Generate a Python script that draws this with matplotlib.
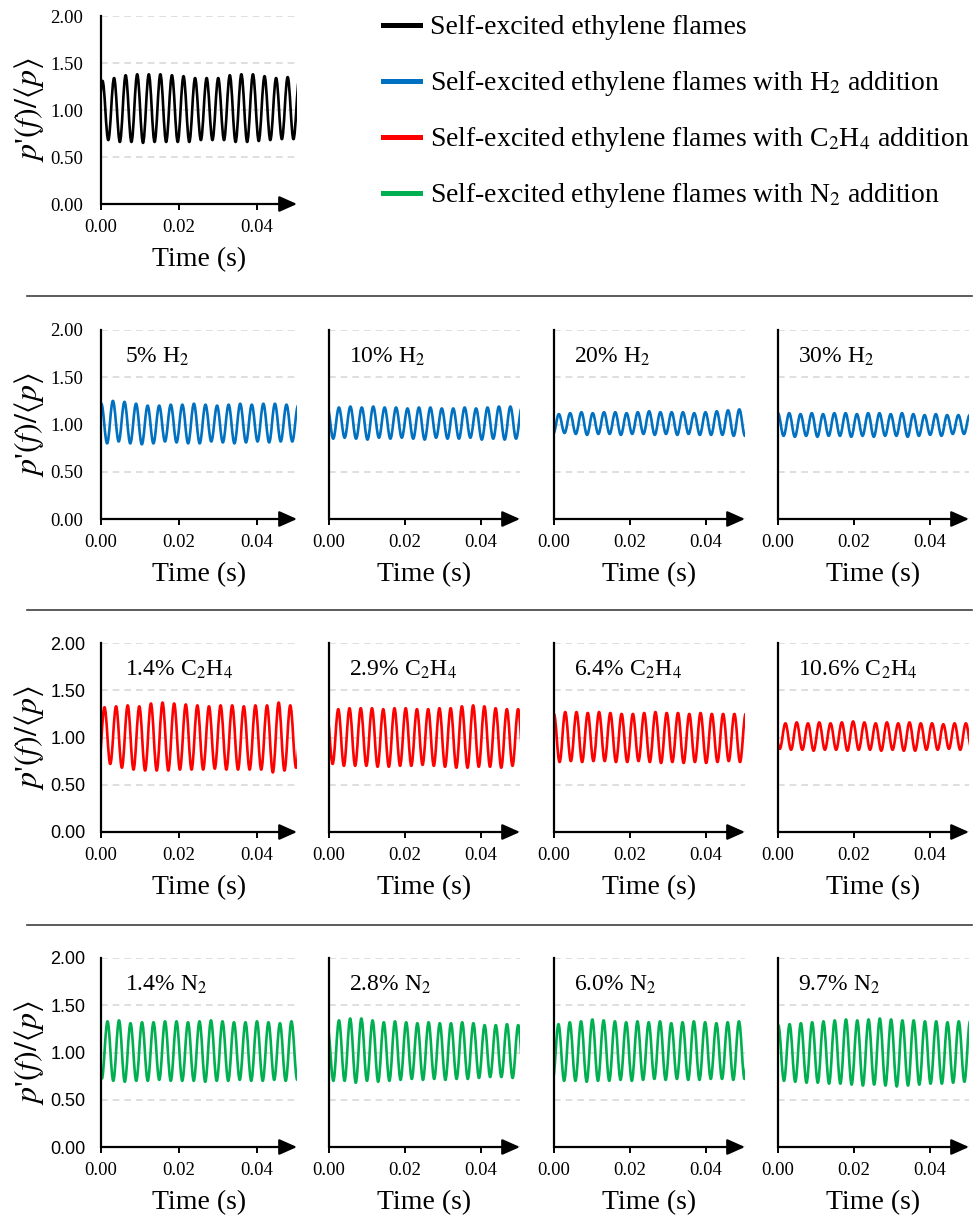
import numpy as np
import matplotlib.pyplot as plt
from matplotlib.path import Path
from matplotlib.patches import PathPatch
from matplotlib.lines import Line2D

plt.rcParams['font.family'] = 'Liberation Serif'
plt.rcParams['mathtext.fontset'] = 'stix'

# %%
# Extrema of p'(f)/<p> (trough, peak, trough, ...)

base = [0.72, 1.31, 0.68, 1.34, 0.66, 1.37, 0.66, 1.38, 0.65, 1.38, 0.66, 1.38, 0.66, 1.37,
        0.66, 1.36, 0.66, 1.34, 0.68, 1.34, 0.68, 1.34, 0.68, 1.37, 0.66, 1.38, 0.66, 1.38,
        0.67, 1.36, 0.68, 1.34, 0.69, 1.35, 0.69, 1.33, 0.70]

h2_05 = [0.85, 1.22, 0.80, 1.25, 0.82, 1.24, 0.80, 1.22, 0.79, 1.20, 0.80, 1.20, 0.82, 1.21,
         0.81, 1.21, 0.80, 1.22, 0.80, 1.21, 0.82, 1.20, 0.81, 1.21, 0.80, 1.22, 0.81, 1.21,
         0.82, 1.22, 0.81, 1.22, 0.82, 1.21, 0.82, 1.20, 0.82]
h2_10 = [0.86, 1.18, 0.85, 1.18, 0.86, 1.19, 0.85, 1.18, 0.84, 1.19, 0.86, 1.18, 0.85, 1.18,
         0.86, 1.17, 0.85, 1.18, 0.84, 1.18, 0.86, 1.17, 0.85, 1.17, 0.85, 1.18, 0.86, 1.17,
         0.84, 1.18, 0.85, 1.19, 0.84, 1.19, 0.85, 1.18, 0.86]
h2_20 = [0.90, 1.11, 0.91, 1.12, 0.90, 1.13, 0.89, 1.12, 0.90, 1.13, 0.90, 1.13, 0.89, 1.12,
         0.90, 1.13, 0.90, 1.14, 0.89, 1.13, 0.90, 1.13, 0.89, 1.13, 0.90, 1.12, 0.89, 1.13,
         0.89, 1.14, 0.89, 1.15, 0.88, 1.16, 0.88, 1.15, 0.89]
h2_30 = [0.90, 1.12, 0.88, 1.12, 0.87, 1.11, 0.88, 1.12, 0.87, 1.11, 0.88, 1.12, 0.88, 1.12,
         0.87, 1.11, 0.88, 1.12, 0.87, 1.12, 0.88, 1.11, 0.88, 1.12, 0.87, 1.11, 0.88, 1.10,
         0.89, 1.11, 0.88, 1.10, 0.90, 1.10, 0.90, 1.10, 0.90]

c2h4_14 = [0.70, 1.32, 0.72, 1.33, 0.68, 1.34, 0.66, 1.33, 0.65, 1.36, 0.65, 1.37, 0.65, 1.36,
           0.66, 1.35, 0.66, 1.34, 0.66, 1.33, 0.67, 1.34, 0.66, 1.34, 0.66, 1.33, 0.66, 1.34,
           0.66, 1.34, 0.63, 1.37, 0.65, 1.34, 0.68, 1.33, 0.68]
c2h4_29 = [0.75, 1.25, 0.72, 1.30, 0.70, 1.31, 0.70, 1.31, 0.70, 1.31, 0.69, 1.30, 0.69, 1.31,
           0.70, 1.31, 0.70, 1.30, 0.71, 1.30, 0.70, 1.31, 0.69, 1.31, 0.68, 1.33, 0.68, 1.34,
           0.69, 1.33, 0.69, 1.31, 0.68, 1.30, 0.70, 1.30, 0.72]
c2h4_64 = [0.78, 1.25, 0.74, 1.27, 0.75, 1.27, 0.74, 1.26, 0.75, 1.27, 0.75, 1.26, 0.74, 1.25,
           0.74, 1.25, 0.75, 1.26, 0.74, 1.27, 0.73, 1.26, 0.74, 1.26, 0.73, 1.25, 0.74, 1.26,
           0.73, 1.25, 0.74, 1.25, 0.75, 1.25, 0.74, 1.25, 0.75]
c2h4_106 = [0.90, 1.12, 0.88, 1.15, 0.87, 1.16, 0.87, 1.15, 0.86, 1.16, 0.87, 1.15, 0.87, 1.16,
            0.86, 1.17, 0.87, 1.16, 0.87, 1.15, 0.86, 1.16, 0.87, 1.15, 0.86, 1.16, 0.86, 1.15,
            0.87, 1.15, 0.87, 1.14, 0.88, 1.15, 0.87, 1.15, 0.88]

n2_14 = [0.72, 1.33, 0.70, 1.34, 0.69, 1.31, 0.70, 1.32, 0.70, 1.32, 0.71, 1.33, 0.70, 1.33,
         0.70, 1.32, 0.70, 1.33, 0.69, 1.34, 0.70, 1.33, 0.70, 1.32, 0.71, 1.32, 0.70, 1.33,
         0.70, 1.32, 0.71, 1.31, 0.70, 1.33, 0.71, 1.32, 0.72]
n2_28 = [0.75, 1.25, 0.70, 1.34, 0.70, 1.36, 0.68, 1.36, 0.70, 1.34, 0.69, 1.32, 0.70, 1.33,
         0.71, 1.32, 0.72, 1.31, 0.71, 1.32, 0.72, 1.31, 0.71, 1.31, 0.72, 1.32, 0.72, 1.31,
         0.73, 1.29, 0.74, 1.29, 0.74, 1.30, 0.73, 1.29, 0.74]
n2_60 = [0.72, 1.30, 0.70, 1.32, 0.70, 1.33, 0.69, 1.35, 0.70, 1.34, 0.70, 1.33, 0.71, 1.32,
         0.70, 1.33, 0.71, 1.32, 0.72, 1.33, 0.71, 1.31, 0.72, 1.32, 0.71, 1.33, 0.71, 1.32,
         0.72, 1.31, 0.72, 1.32, 0.71, 1.33, 0.72, 1.32, 0.72]
n2_97 = [0.72, 1.29, 0.70, 1.30, 0.69, 1.31, 0.68, 1.32, 0.68, 1.33, 0.67, 1.34, 0.67, 1.35,
         0.66, 1.34, 0.65, 1.35, 0.66, 1.36, 0.65, 1.35, 0.64, 1.34, 0.65, 1.34, 0.66, 1.33,
         0.67, 1.33, 0.67, 1.32, 0.68, 1.33, 0.69, 1.33, 0.70]

# time of the first trough and oscillation period of each record (s)
t_first = {'base': -0.0011,
           'h2': [-0.0014, -0.0019, -0.0002, -0.0015],
           'c2h4': [-0.0006, -0.0020, -0.0015, -0.0025],
           'n2': [0.0002, -0.0018, -0.0003, -0.0014]}
period = {'base': 0.00297,
          'h2': [0.00297, 0.00301, 0.00297, 0.00297],
          'c2h4': [0.00298, 0.00296, 0.00297, 0.00297],
          'n2': [0.00295, 0.00295, 0.00297, 0.00297]}

h2_labels = ['5% H$_2$', '10% H$_2$', '20% H$_2$', '30% H$_2$']
c2h4_labels = ['1.4% C$_2$H$_4$', '2.9% C$_2$H$_4$', '6.4% C$_2$H$_4$', '10.6% C$_2$H$_4$']
n2_labels = ['1.4% N$_2$', '2.8% N$_2$', '6.0% N$_2$', '9.7% N$_2$']

legend_labels = ['Self-excited ethylene flames',
                 'Self-excited ethylene flames with H$_2$ addition',
                 'Self-excited ethylene flames with C$_2$H$_4$ addition',
                 'Self-excited ethylene flames with N$_2$ addition']
colors = ['black', '#0070C0', '#FF0000', '#00B050']

# %%
W, H = 979, 1221
fig = plt.figure(figsize=(W / 100, H / 100), dpi=100)


def px_axes(left, top, width, height):
    return fig.add_axes([left / W, 1 - (top + height) / H, width / W, height / H])


def wave(ax, t0, per, vals, color):
    # smooth curve through the extrema (cubic bezier segments)
    h = per / 2
    t = t0 + h * np.arange(len(vals))
    verts = [(t[0], vals[0])]
    codes = [Path.MOVETO]
    for i in range(len(vals) - 1):
        verts += [(t[i] + 0.37 * h, vals[i]), (t[i + 1] - 0.37 * h, vals[i + 1]),
                  (t[i + 1], vals[i + 1])]
        codes += [Path.CURVE4] * 3
    ax.add_patch(PathPatch(Path(verts, codes), fill=False, edgecolor=color, lw=1.9,
                           joinstyle='round'))


def style(ax, first_col, sans_y=False):
    ax.set_xlim(0, 0.0503)
    ax.set_ylim(0, 2)
    ax.set_xticks([0, 0.02, 0.04])
    ax.set_xticklabels(['0.00', '0.02', '0.04'])
    ax.set_yticks([0, 0.5, 1.0, 1.5, 2.0])
    ax.set_yticklabels(['0.00', '0.50', '1.00', '1.50', '2.00'])
    for s in ['top', 'right', 'bottom']:
        ax.spines[s].set_visible(False)
    ax.spines['left'].set_linewidth(1.6)
    ax.yaxis.grid(True, ls=(0, (4, 3)), color='#d9d9d9', lw=1.2)
    ax.set_axisbelow(True)
    ax.tick_params(axis='x', direction='out', length=4, width=1.4, pad=7, labelsize=13.5)
    ax.tick_params(axis='y', length=0, pad=13, labelsize=13.5, labelleft=first_col)
    if sans_y:
        ax.tick_params(axis='y', pad=11, labelsize=13)
        plt.setp(ax.get_yticklabels(), family='Liberation Sans')
    ax.annotate('', xy=(1, 0), xytext=(0, 0), xycoords='axes fraction',
                arrowprops=dict(arrowstyle='-|>,head_length=0.9,head_width=0.4',
                                lw=1.6, color='black', mutation_scale=12,
                                shrinkA=0, shrinkB=0),
                annotation_clip=False)
    ax.set_xlabel('Time (s)', fontsize=20)
    ax.xaxis.set_label_coords(0.5, -56 / 189)
    ax.xaxis.label.set_va('center')
    if first_col:
        ax.set_ylabel(r"$p$'$(f)/\langle p\rangle$", fontsize=23)
        ax.yaxis.set_label_coords(-72 / 196, 0.5)
        ax.yaxis.label.set_va('center')


# %%
# Top panel: baseline flame
ax0 = px_axes(101, 16, 196, 188)
wave(ax0, t_first['base'], period['base'], base, colors[0])
style(ax0, True)

# Legend
leg_y = [27, 83, 139, 195]
for i in range(4):
    fig.add_artist(Line2D([383 / W, 420 / W], [1 - (leg_y[i] - 2) / H] * 2,
                          transform=fig.transFigure, color=colors[i], lw=3.6))
    fig.text(430 / W, 1 - leg_y[i] / H, legend_labels[i], fontsize=20,
             va='center', ha='left')

# %%
# Three rows of additive cases
lefts = [101, 329, 554, 778]
widths = [196, 191, 191, 191]
rows = [(330, 'h2', [h2_05, h2_10, h2_20, h2_30], h2_labels, colors[1], False),
        (643, 'c2h4', [c2h4_14, c2h4_29, c2h4_64, c2h4_106], c2h4_labels, colors[2], True),
        (958, 'n2', [n2_14, n2_28, n2_60, n2_97], n2_labels, colors[3], True)]

for top, key, series, labels, color, sans in rows:
    for j in range(4):
        ax = px_axes(lefts[j], top, widths[j], 189)
        wave(ax, t_first[key][j], period[key][j], series[j], color)
        style(ax, j == 0, sans)
        off = 24 if j == 0 else 20
        ax.text(off / widths[j], 1 - 27 / 189, labels[j], transform=ax.transAxes,
                fontsize=17, va='center', ha='left')

# separators between rows
for y in [296, 609.5, 924.5]:
    fig.add_artist(Line2D([27 / W, 972 / W], [1 - y / H] * 2,
                          transform=fig.transFigure, color='#404040', lw=1.2))

fig.savefig('out.png', dpi=100)
